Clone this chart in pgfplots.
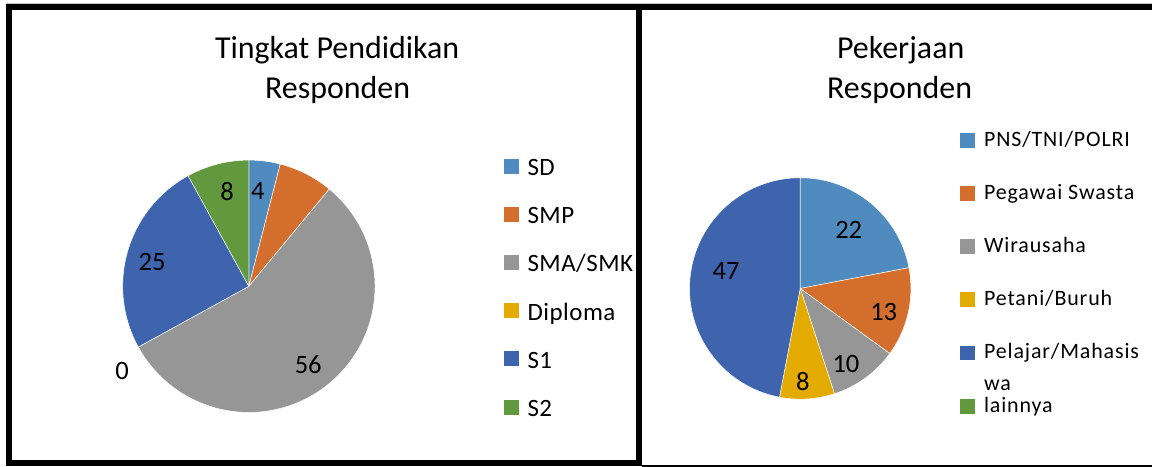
\documentclass[border=0pt]{standalone}
\usepackage{pgfplots}
\usepackage{pgfplotstable}
\pgfplotsset{compat=1.18}
\usepackage{fontspec}
\setmainfont{Carlito}
\newfontfamily\legLfam[LetterSpace=2]{Carlito}
\newfontfamily\legRfam[LetterSpace=4]{Carlito}

\definecolor{c1}{RGB}{79,139,190}
\definecolor{c2}{RGB}{212,110,44}
\definecolor{c3}{RGB}{150,150,150}
\definecolor{c4}{RGB}{227,170,0}
\definecolor{c5}{RGB}{61,100,172}
\definecolor{c6}{RGB}{98,153,62}

\newcommand\titlefont{\fontsize{16}{19}\selectfont}
\newcommand\labfont{\fontsize{13.3}{15}\selectfont}
\newcommand\legL{\legLfam\fontsize{12.5}{14}\selectfont}
\newcommand\legR{\legRfam\fontsize{11}{13}\selectfont}

% value = share, lr = label distance (fraction of radius), da = label angle nudge, show = label drawn
\pgfplotstableread[col sep=comma]{
name,value,lr,da,show
SD,4,0.757,1.8,1
SMP,7,0.78,0,0
SMA/SMK,56,0.78,-2.5,1
Diploma,0,1.21,5,1
S1,25,0.79,2.2,1
S2,8,0.77,-1.4,1
}\pendidikan

\pgfplotstableread[col sep=comma]{
name,value,lr,da,show
PNS/TNI/POLRI,22,0.69,0.2,1
Pegawai Swasta,13,0.784,-3.3,1
Wirausaha,10,0.80,-4.9,1
Petani/Buruh,8,0.845,-2,1
Pelajar/Mahasiswa,47,0.687,-7.6,1
lainnya,0,1.2,0,0
}\pekerjaan

% #1 table, #2 #3 centre, #4 radius (px)
\newcommand\pie[4]{%
  \pgfplotstablegetrowsof{#1}%
  \pgfmathtruncatemacro\last{\pgfplotsretval-1}%
  \pgfmathsetmacro\rr{0.5*#4}%
  \def\cum{0}%
  \pgfplotsforeachungrouped \k in {0,...,\last}{%
    \pgfplotstablegetelem{\k}{value}\of{#1}\let\val\pgfplotsretval
    \pgfmathsetmacro\angA{90-3.6*\cum}%
    \pgfmathsetmacro\angB{90-3.6*(\cum+\val)}%
    \pgfmathtruncatemacro\ci{\k+1}%
    \ifdim\val pt>0pt
      \edef\cmd{\noexpand\fill[c\ci, draw=white, line width=0.25pt] (axis cs:#2,#3) -- ++(\angA:\rr pt) arc[start angle=\angA, end angle=\angB, radius=\rr pt] -- cycle;}%
      \cmd
    \fi
    \pgfmathsetmacro\cum{\cum+\val}%
  }%
  \def\cum{0}%
  \pgfplotsforeachungrouped \k in {0,...,\last}{%
    \pgfplotstablegetelem{\k}{value}\of{#1}\let\val\pgfplotsretval
    \pgfplotstablegetelem{\k}{lr}\of{#1}\let\lr\pgfplotsretval
    \pgfplotstablegetelem{\k}{da}\of{#1}\let\da\pgfplotsretval
    \pgfplotstablegetelem{\k}{show}\of{#1}\let\sh\pgfplotsretval
    \pgfmathsetmacro\angM{90-3.6*(\cum+\val/2)+(\da)}%
    \ifnum\sh=1
      \pgfmathsetmacro\lx{#2+#4*\lr*cos(\angM)}%
      \pgfmathsetmacro\ly{#3+#4*\lr*sin(\angM)}%
      \edef\cmd{\noexpand\node[font=\noexpand\labfont, inner sep=0pt] at (axis cs:\lx,\ly) {\val};}%
      \cmd
    \fi
    \pgfmathsetmacro\cum{\cum+\val}%
  }%
}

% legend entry: square left x, square centre y, baseline y, colour, text, font
\newcommand\legitem[6]{%
  \fill[#4] (axis cs:#1,#2-7.5) rectangle (axis cs:#1+15,#2+7.5);
  \node[anchor=base west, inner sep=0pt, font=#6] at (axis cs:#1+23.5,#3) {#5};
}

\begin{document}
\begin{tikzpicture}
\begin{axis}[
    width=577.5pt, height=234pt,
    scale only axis,
    xmin=0, xmax=1155, ymin=0, ymax=468,
    hide axis,
    clip=false,
]
\fill[white] (axis cs:0,0) rectangle (axis cs:1155,468);

\pie{\pendidikan}{249.5}{181}{126.5}
\pie{\pekerjaan}{802.3}{178.8}{111}

\node[anchor=base, font=\titlefont, inner sep=0pt] at (axis cs:338,409.7) {Tingkat Pendidikan};
\node[anchor=base, font=\titlefont, inner sep=0pt] at (axis cs:338.5,369.7) {Responden};
\node[anchor=base, font=\titlefont, inner sep=0pt] at (axis cs:903,409.7) {Pekerjaan};
\node[anchor=base, font=\titlefont, inner sep=0pt] at (axis cs:902,369.7) {Responden};

\legitem{505}{301.3}{292}{c1}{SD}{\legL}
\legitem{505}{253}{243.7}{c2}{SMP}{\legL}
\legitem{505}{204.7}{195.4}{c3}{SMA/SMK}{\legL}
\legitem{505}{156.4}{147.1}{c4}{Diploma}{\legL}
\legitem{505}{108.1}{98.8}{c5}{S1}{\legL}
\legitem{505}{59.8}{50.5}{c6}{S2}{\legL}

\legitem{962.7}{327.3}{321.3}{c1}{PNS/TNI/POLRI}{\legR}
\legitem{962.7}{274}{268}{c2}{Pegawai Swasta}{\legR}
\legitem{962.7}{220.7}{214.7}{c3}{Wirausaha}{\legR}
\legitem{962.7}{167.4}{161.4}{c4}{Petani/Buruh}{\legR}
\legitem{962.7}{114.1}{108.1}{c5}{Pelajar/Mahasis}{\legR}
\node[anchor=base west, inner sep=0pt, font=\legR] at (axis cs:986.2,76.3) {wa};
\legitem{962.7}{60.8}{54.8}{c6}{lainnya}{\legR}

% panel frames
\draw[gray!45, line width=0.5pt] (axis cs:6,464.5) -- (axis cs:1155,464.5);
\draw[line width=3pt] (axis cs:9,4) rectangle (axis cs:641,460.5);
\draw[line width=3pt] (axis cs:641,460.5) -- (axis cs:1155,460.5);
\draw[line width=0.75pt] (axis cs:644,0.75) -- (axis cs:1155,0.75);
\end{axis}
\end{tikzpicture}
\end{document}
